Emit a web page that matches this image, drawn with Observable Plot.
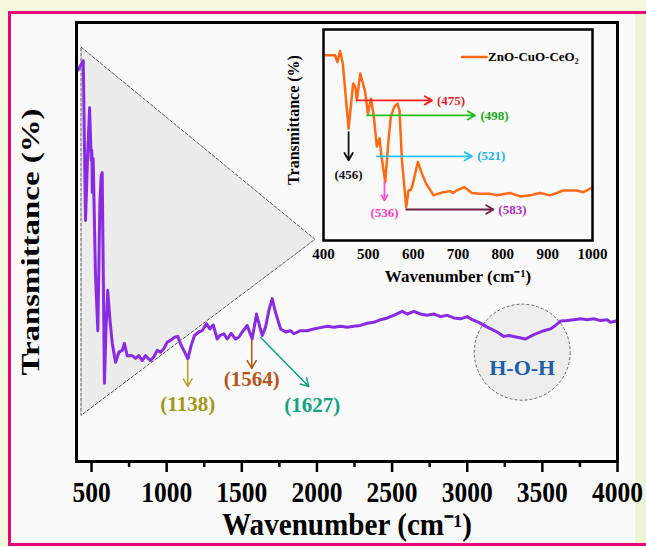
<!DOCTYPE html>
<html><head><meta charset="utf-8">
<script src="https://cdn.jsdelivr.net/npm/d3@7"></script>
<script src="https://cdn.jsdelivr.net/npm/@observablehq/plot@0.6"></script>
<style>
html,body{margin:0;padding:0;background:#f5f7da;}
#wrap{position:relative;width:646px;height:547px;overflow:hidden;}
#border{position:absolute;left:8px;top:11px;width:700px;height:529px;border:3px solid #e4067a;background:#fafafa;}
#strip{position:absolute;left:635px;top:14px;width:11px;height:529px;background:#eef4d6;}
#main{position:absolute;left:0;top:0;}
#inset{position:absolute;left:260px;top:18px;}
svg{max-width:none !important;}
</style></head>
<body><div id="wrap"><div id="border"></div><div id="strip"></div><div id="main"></div><div id="inset"></div></div>
<script>
// ---- main spectrum (wavenumber cm-1, transmittance arbitrary %) ----
const mainWave = [409,427,445,460,473,487,498,502,505,511,526,542,556,564,571,586,596,608,623,638,660,682,704,719,737,771,793,815,837,859,892,914,937,959,981,1004,1026,1052,1074,1092,1114,1141,1163,1185,1214,1236,1265,1287,1310,1336,1354,1380,1403,1429,1458,1480,1503,1536,1569,1598,1620,1636,1658,1680,1702,1724,1758,1791,1824,1846,1891,1935,1979,2024,2068,2112,2157,2201,2245,2290,2334,2378,2423,2468,2511,2567,2601,2645,2689,2734,2778,2822,2867,2911,2955,3000,3033,3077,3133,3199,3243,3277,3333,3388,3443,3510,3554,3587,3621,3665,3709,3754,3798,3842,3887,3931,3953,3987,4000];
const mainT = [89.1,90.2,91.3,54.9,68.6,80.6,68.6,70.9,61.3,69,42.8,29.8,59.5,65.1,65.8,17.8,29.8,39,32.1,26.9,22.6,24.9,25.3,26.9,24.1,24.1,23.5,24.1,23,24.1,23,23.8,25.3,24.9,25.7,27.2,27.6,28.3,28.5,26.8,25.3,23.4,26.4,28.7,29.5,29.8,31.4,30.2,31.1,27.9,28.7,29.1,27.9,29.2,27.9,28.3,29.5,31,27.9,33.6,30.6,28.7,30.6,34.4,37.1,34,30.2,29.5,29.8,29.1,29.8,29.8,30.2,30.5,30.8,30.6,30.8,30.6,30.8,31,31.5,31.7,32.3,32.7,33.3,34.2,33.6,34.2,33.6,33.3,33.6,33,33.3,32.7,32.5,33,32.3,31.7,30.6,29.5,28.5,28.7,28.3,27.9,28.9,29.8,30.2,31,32,32.1,32.3,32.5,32.3,32.5,32.1,32.3,31.7,32,31.9];
const mainTicks = [500,1000,1500,2000,2500,3000,3500,4000];
const mainMinorTicks = [750,1250,1750,2250,2750,3250,3750];

// zoom triangle (in main data units)
const triWave = [430,1987,430,430];
const triT = [94.4,50.6,10.5,94.4];

// H-O-H region
const hohWave = [3366];
const hohT = [24.9];
const hohLabelT = [21.3];
const hohLabel = ["H-O-H"];

// main peak annotations
const peakLabels = ["(1138)","(1564)","(1627)"];
const peakX1 = [1140,1566,1624];
const peakY1 = [23,27.6,28.3];
const peakX2 = [1140,1566,1946];
const peakY2 = [17.1,21.2,17.1];
const peakLabelX = [1140,1566,1968];
const peakLabelY = [13,18.7,12.8];
const peakArrowColors = ["#b0a020","#b0520e","#12a27e"];
const peakTextColors = ["#a3961a","#b4561b","#14a37f"];

// ---- inset spectrum ----
const insetWave = [400,426,431,437,443,456,466,471,474.5,482,488,493,499,506,511.5,519,525,528.7,537.6,545,550,557.7,565,569.5,575,584.5,589.6,595,599.4,610.5,619.5,629,636.5,645.4,656.5,667.7,682.5,688.5,697,713.8,731,749.4,771.7,786.6,816.4,838.7,861,883,905.6,935,965,980,998.5,1000];
const insetT = [87.8,87.8,84.6,89.8,83.9,53,74.4,72.8,66.4,79.1,74.4,70.4,60.1,67.2,60.1,44.5,48.5,41,27.7,47.5,58.5,63.3,64.9,61.7,38,15.8,23.7,24,26.9,37.2,31.7,26.9,24.5,21.4,22.2,22.9,23.4,22.5,23.7,25.3,22.5,22.2,22.2,21.4,22.5,20.9,21.4,22.5,21.4,23.7,23.7,22.9,25,25];
const insetTicks = [400,500,600,700,800,900,1000];
const seriesName = "ZnO-CuO-CeO₂";

// inset band annotations
const bandLabels = ["(456)","(475)","(498)","(521)","(536)","(583)"];
const bandX1 = [456,474.5,497,519,536,584.5];
const bandY1 = [51.4,66.4,59.3,39.9,27.7,14.7];
const bandX2 = [456,642,738,731,536,779];
const bandY2 = [38,66.4,59.3,39.9,19,14.7];
const bandLabelX = [456,653,750,743,536,790];
const bandLabelY = [31.3,66.4,59.3,39.9,13,14.7];
const bandLabelAnchor = ["middle","start","start","start","middle","start"];
const bandArrowColors = ["#111111","#ff1e1e","#22c022","#22c4f2","#ff4fc8","#6e1f45"];
const bandTextColors = ["#111111","#e8202a","#1ba51b","#1ab2ea","#ff40c0","#b02fc6"];

const legendWave = [709,764];
const legendT = [87,87];
const legendTextWave = [767];

// ---- build tables ----
const mainData = mainWave.map((w,i)=>({w, t: mainT[i]}));
const tri = triWave.map((w,i)=>({w, t: triT[i]}));
const peaks = peakLabels.map((l,i)=>({l, x1:peakX1[i], y1:peakY1[i], x2:peakX2[i], y2:peakY2[i], lx:peakLabelX[i], ly:peakLabelY[i], ac:peakArrowColors[i], tc:peakTextColors[i]}));
const insetData = insetWave.map((w,i)=>({w, t: insetT[i]}));
const bands = bandLabels.map((l,i)=>({l, x1:bandX1[i], y1:bandY1[i], x2:bandX2[i], y2:bandY2[i], lx:bandLabelX[i], ly:bandLabelY[i], a:bandLabelAnchor[i], ac:bandArrowColors[i], tc:bandTextColors[i]}));
const font = "Liberation Serif, Times New Roman, serif";

const main = Plot.plot({
  width: 646, height: 547,
  marginLeft: 76, marginRight: 29, marginTop: 22, marginBottom: 86,
  style: {background: "transparent", fontFamily: font, color: "black", overflow: "visible"},
  x: {domain: [400, 4000]},
  y: {domain: [0, 100], axis: null},
  marks: [
    Plot.line(tri, {x: "w", y: "t", fill: "#ececec", stroke: "#555", strokeWidth: 1, strokeDasharray: "3,2"}),
    Plot.dot(hohWave.map((w,i)=>({w, t: hohT[i]})), {x: "w", y: "t", r: 48, fill: "#eeeeee", stroke: "#666", strokeWidth: 1, strokeDasharray: "3,2"}),
    Plot.line(mainData, {x: "w", y: "t", stroke: "#8a2be2", strokeWidth: 3}),
    Plot.arrow(peaks, {x1: "x1", y1: "y1", x2: "x2", y2: "y2", stroke: "ac", strokeWidth: 1.5, headLength: 9}),
    Plot.text(peaks, {x: "lx", y: "ly", text: "l", fill: "tc", fontSize: 21, fontWeight: "bold"}),
    Plot.text(hohLabel, {x: () => hohWave[0], y: () => hohLabelT[0], text: d => d, fill: "#1f5ea8", fontSize: 22, fontWeight: "bold"}),
    Plot.axisX({ticks: mainMinorTicks, tickSize: 6, tickFormat: () => "", strokeWidth: 2.5, label: null}),
    Plot.axisX({ticks: mainTicks, tickSize: 11, tickPadding: 9, tickFormat: "d", fontSize: 29, fontWeight: "bold", strokeWidth: 2.5, label: null}),
    Plot.frame({stroke: "black", strokeWidth: 3}),
    Plot.text(["Wavenumber (cm⁻¹)"], {frameAnchor: "bottom", dy: 73, text: d => d, fontSize: 31, fontWeight: "bold"}),
    Plot.text(["Transmittance (%)"], {frameAnchor: "left", dx: -46, rotate: -90, textAnchor: "middle", text: d => d, fontSize: 26, fontWeight: "bold"})
  ]
});
document.getElementById("main").appendChild(main);

const inset = Plot.plot({
  width: 346, height: 280,
  marginLeft: 63, marginRight: 14, marginTop: 11, marginBottom: 58,
  style: {background: "transparent", fontFamily: font, color: "black", overflow: "visible"},
  x: {domain: [400, 1000]},
  y: {domain: [0, 100], axis: null},
  marks: [
    Plot.frame({fill: "#fafafa"}),
    Plot.line(insetData, {x: "w", y: "t", stroke: "#ff6a14", strokeWidth: 2.5}),
    Plot.arrow(bands, {x1: "x1", y1: "y1", x2: "x2", y2: "y2", stroke: "ac", strokeWidth: 1.8, headLength: 7}),
    Plot.text(bands.filter(d => d.a === "middle"), {x: "lx", y: "ly", text: "l", fill: "tc", textAnchor: "middle", fontSize: 13, fontWeight: "bold"}),
    Plot.text(bands.filter(d => d.a === "start"), {x: "lx", y: "ly", text: "l", fill: "tc", textAnchor: "start", fontSize: 13, fontWeight: "bold"}),
    Plot.line(legendWave.map((w,i)=>({w, t: legendT[i]})), {x: "w", y: "t", stroke: "#ff6a14", strokeWidth: 2.5}),
    Plot.text([seriesName], {x: () => legendTextWave[0], y: () => legendT[0], text: d => d, textAnchor: "start", fontSize: 13, fontWeight: "bold"}),
    Plot.axisX({ticks: insetTicks, tickSize: 0, tickPadding: 8, tickFormat: "d", fontSize: 15, fontWeight: "bold", label: null}),
    Plot.frame({stroke: "black", strokeWidth: 2.5}),
    Plot.text(["Wavenumber (cm⁻¹)"], {frameAnchor: "bottom", dy: 41, text: d => d, fontSize: 17, fontWeight: "bold"}),
    Plot.text(["Transmittance (%)"], {frameAnchor: "left", dx: -30, dy: -15, rotate: -90, textAnchor: "middle", text: d => d, fontSize: 16, fontWeight: "bold"})
  ]
});
document.getElementById("inset").appendChild(inset);

// condense/stretch glyphs to mimic the reference's aspect
function fit(svg, test, factor, fixed) {
  Array.from(svg.querySelectorAll("text")).filter(t => test(t.textContent)).forEach(t => {
    const L = fixed || t.getComputedTextLength() * factor;
    if (L > 0) {
      t.setAttribute("textLength", L);
      t.setAttribute("lengthAdjust", "spacingAndGlyphs");
    }
  });
}
fit(main, s => /^\d+$/.test(s), 0.88);
fit(main, s => s.startsWith("Wavenumber"), 0.94);
fit(main, s => s.startsWith("Transmittance"), 0, 267);
</script>
</body></html>
